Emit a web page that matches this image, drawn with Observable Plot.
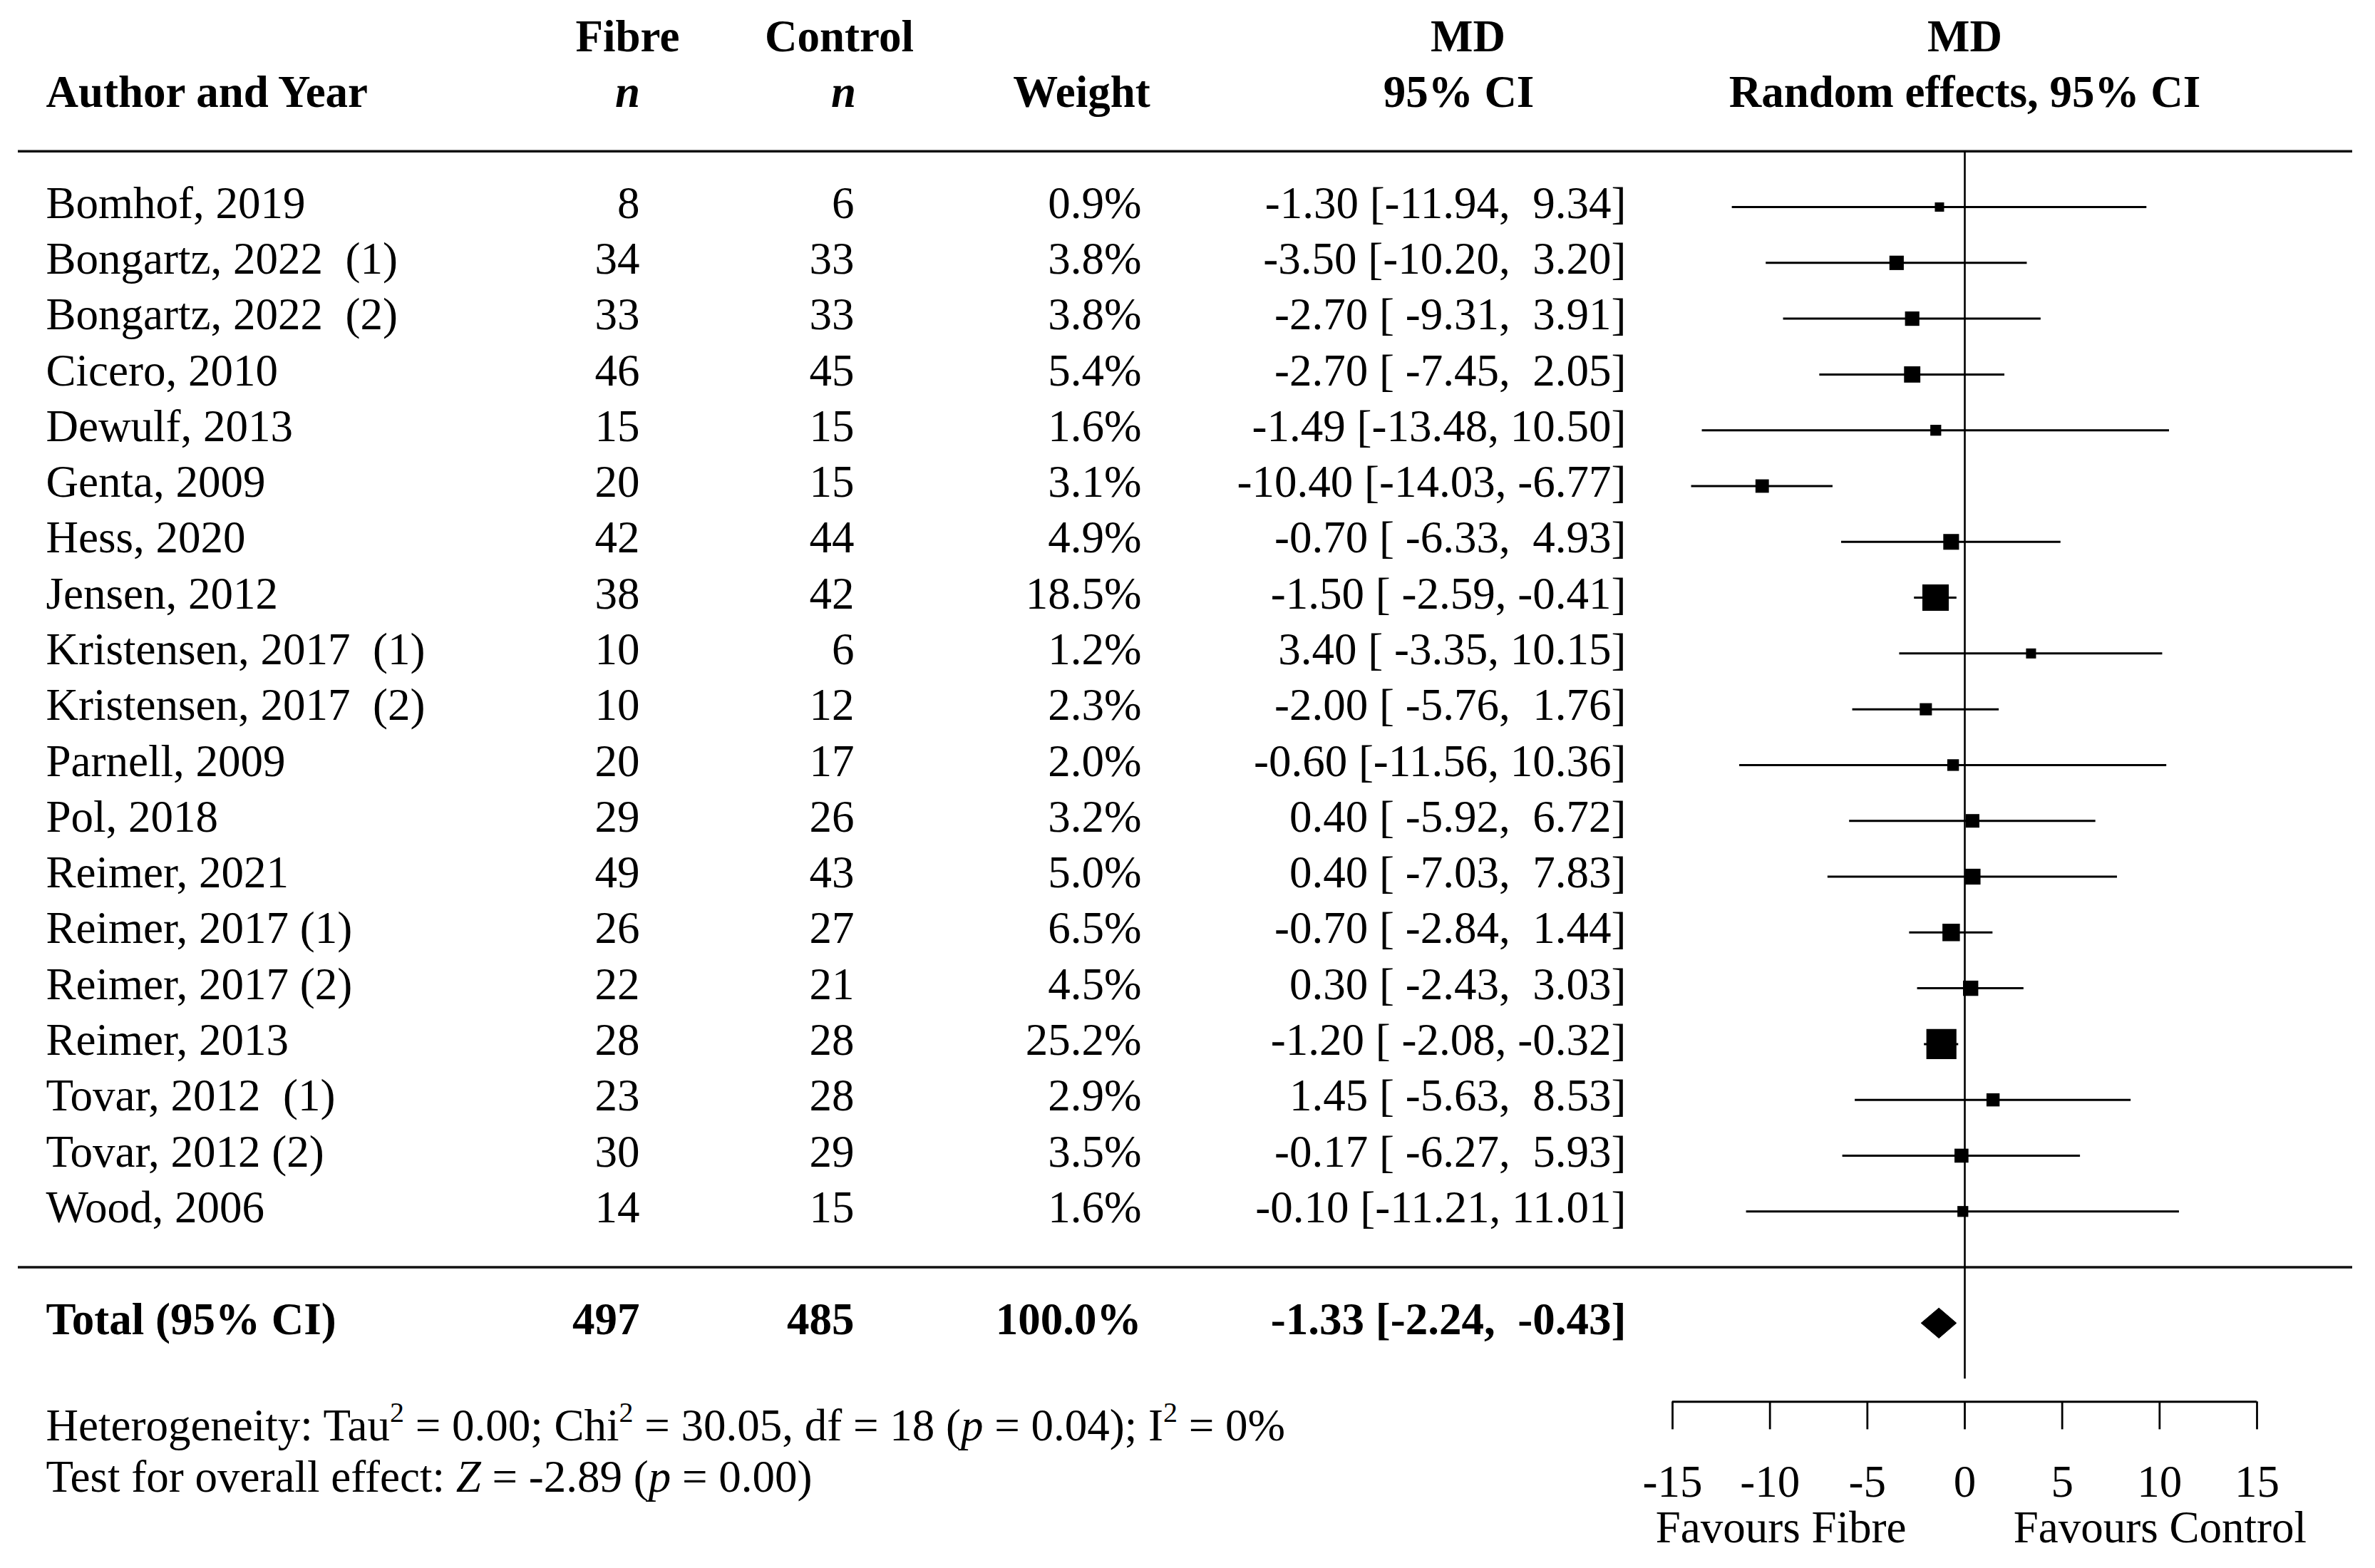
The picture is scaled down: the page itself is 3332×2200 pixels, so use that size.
<!DOCTYPE html>
<html>
<head>
<meta charset="utf-8">
<script src="https://cdn.jsdelivr.net/npm/d3@7"></script>
<script src="https://cdn.jsdelivr.net/npm/@observablehq/plot@0.6"></script>
<style>
  html, body { margin: 0; padding: 0; background: #ffffff; }
  svg text { white-space: pre; }
</style>
</head>
<body>
<div id="chart"></div>
<script>
// ---------------- data ----------------
const studies = [
  "Bomhof, 2019", "Bongartz, 2022  (1)", "Bongartz, 2022  (2)", "Cicero, 2010",
  "Dewulf, 2013", "Genta, 2009", "Hess, 2020", "Jensen, 2012",
  "Kristensen, 2017  (1)", "Kristensen, 2017  (2)", "Parnell, 2009", "Pol, 2018",
  "Reimer, 2021", "Reimer, 2017 (1)", "Reimer, 2017 (2)", "Reimer, 2013",
  "Tovar, 2012  (1)", "Tovar, 2012 (2)", "Wood, 2006"
];
const fibreN   = [8, 34, 33, 46, 15, 20, 42, 38, 10, 10, 20, 29, 49, 26, 22, 28, 23, 30, 14];
const controlN = [6, 33, 33, 45, 15, 15, 44, 42, 6, 12, 17, 26, 43, 27, 21, 28, 28, 29, 15];
const weights  = [0.9, 3.8, 3.8, 5.4, 1.6, 3.1, 4.9, 18.5, 1.2, 2.3, 2.0, 3.2, 5.0, 6.5, 4.5, 25.2, 2.9, 3.5, 1.6];
const meanDiff = [-1.30, -3.50, -2.70, -2.70, -1.49, -10.40, -0.70, -1.50, 3.40, -2.00, -0.60, 0.40, 0.40, -0.70, 0.30, -1.20, 1.45, -0.17, -0.10];
const ciLow    = [-11.94, -10.20, -9.31, -7.45, -13.48, -14.03, -6.33, -2.59, -3.35, -5.76, -11.56, -5.92, -7.03, -2.84, -2.43, -2.08, -5.63, -6.27, -11.21];
const ciHigh   = [9.34, 3.20, 3.91, 2.05, 10.50, -6.77, 4.93, -0.41, 10.15, 1.76, 10.36, 6.72, 7.83, 1.44, 3.03, -0.32, 8.53, 5.93, 11.01];

const totalLabel   = "Total (95% CI)";
const totalFibre   = 497;
const totalControl = 485;
const totalWeight  = 100.0;
const totalMD      = -1.33;
const totalLow     = -2.24;
const totalHigh    = -0.43;

const xTicks = [-15, -10, -5, 0, 5, 10, 15];
const favourLeft  = "Favours Fibre";
const favourRight = "Favours Control";

const headers1 = ["Fibre", "Control", "MD", "MD"];
const headers2 = ["Author and Year", "n", "n", "Weight", "95% CI", "Random effects, 95% CI"];

const heterogeneityText = "Heterogeneity: Tau^2^ = 0.00; Chi^2^ = 30.05, df = 18 (*p* = 0.04); I^2^ = 0%";
const overallText = "Test for overall effect: *Z* = -2.89 (*p* = 0.00)";

// ---------------- layout ----------------
const W = 3332, H = 2200;
const ML = 2346, MR = 166;
const RULE_LEFT = 25, RULE_RIGHT = 3300;
const col = px => px - ML;          // horizontal offset from the plot frame's left edge
const FONT = "Liberation Serif";
const FS = 63;

const ROW_HEAD1 = -3.05, ROW_HEAD2 = -2.05, ROW_TOPRULE = -1, ROW_MIDRULE = 19, ROW_TOTAL = 20;
const ROW_ZERO_END = 21, ROW_AXIS = 21.41, ROW_TICK_END = 21.91, ROW_TICKLAB = 22.86, ROW_FAVOUR = 23.67;
const ROW_HET = 21.84, ROW_OVERALL = 22.76;

const fmtCI = (m, l, h) => `${m.toFixed(2)} [${l.toFixed(2).padStart(6)}, ${h.toFixed(2).padStart(5)}]`;

const rows = studies.map((s, i) => ({
  i, name: s, fibre: fibreN[i], control: controlN[i], weight: weights[i],
  md: meanDiff[i], lo: ciLow[i], hi: ciHigh[i],
  wlabel: weights[i].toFixed(1) + "%",
  ci: fmtCI(meanDiff[i], ciLow[i], ciHigh[i])
}));

const diamondH = 0.27;
const diamond = [
  {x: totalLow, y: ROW_TOTAL},
  {x: totalMD, y: ROW_TOTAL - diamondH},
  {x: totalHigh, y: ROW_TOTAL},
  {x: totalMD, y: ROW_TOTAL + diamondH},
  {x: totalLow, y: ROW_TOTAL}
];

const txt = {fontFamily: FONT, fontSize: FS, fill: "#000"};
const bold = {...txt, fontWeight: "bold"};
const rowTxt = {...txt, dy: -5};
const rowBold = {...bold, dy: -5};

const ruleExtend = {insetLeft: -(ML - RULE_LEFT), insetRight: -(RULE_RIGHT - (W - MR))};

const chart = Plot.plot({
  width: W,
  height: H,
  marginLeft: ML,
  marginRight: MR,
  marginTop: 16,
  marginBottom: 31,
  style: {background: "#ffffff", fontFamily: FONT},
  x: {domain: [xTicks[0], xTicks[xTicks.length - 1]], axis: null},
  y: {domain: [-3.5, 24], reverse: true, axis: null},
  r: {type: "pow", exponent: 0.5, domain: [0, 25.2], range: [3.5, 23.8]},
  marks: [
    // table rules
    Plot.ruleY([ROW_TOPRULE], {...ruleExtend, stroke: "#111", strokeWidth: 3.5}),
    Plot.ruleY([ROW_MIDRULE], {...ruleExtend, stroke: "#111", strokeWidth: 3.5}),
    // line of no effect
    Plot.ruleX([0], {y1: ROW_TOPRULE, y2: ROW_ZERO_END, stroke: "#000", strokeWidth: 2.6}),
    // confidence intervals
    Plot.ruleY(rows, {y: "i", x1: "lo", x2: "hi", stroke: "#000", strokeWidth: 3}),
    // point estimates
    Plot.dot(rows, {x: "md", y: "i", r: "weight", symbol: "square", fill: "#000", stroke: "none"}),
    // pooled diamond
    Plot.line(diamond, {x: "x", y: "y", fill: "#000", stroke: "#000", strokeWidth: 1}),
    // custom axis
    Plot.ruleY([ROW_AXIS], {x1: xTicks[0], x2: xTicks[xTicks.length - 1], stroke: "#000", strokeWidth: 2.8}),
    Plot.ruleX(xTicks, {x: d => d, y1: ROW_AXIS, y2: ROW_TICK_END, stroke: "#000", strokeWidth: 2.8}),
    Plot.text(xTicks, {x: d => d, y: ROW_TICKLAB, text: d => String(d), ...txt, textAnchor: "middle"}),
    Plot.text([favourLeft], {x: -3, y: ROW_FAVOUR, text: d => d, ...txt, textAnchor: "end"}),
    Plot.text([favourRight], {x: 2.5, y: ROW_FAVOUR, text: d => d, ...txt, textAnchor: "start"}),
    // header line 1
    Plot.text([headers1[0]], {frameAnchor: "left", dx: col(880), y: ROW_HEAD1, text: d => d, ...bold, textAnchor: "middle"}),
    Plot.text([headers1[1]], {frameAnchor: "left", dx: col(1177), y: ROW_HEAD1, text: d => d, ...bold, textAnchor: "middle"}),
    Plot.text([headers1[2]], {frameAnchor: "left", dx: col(2059), y: ROW_HEAD1, text: d => d, ...bold, textAnchor: "middle"}),
    Plot.text([headers1[3]], {x: 0, y: ROW_HEAD1, text: d => d, ...bold, textAnchor: "middle"}),
    // header line 2
    Plot.text([headers2[0]], {frameAnchor: "left", dx: col(64), y: ROW_HEAD2, text: d => d, ...bold, textAnchor: "start"}),
    Plot.text([headers2[1]], {frameAnchor: "left", dx: col(880), y: ROW_HEAD2, text: d => d, ...bold, fontStyle: "italic", textAnchor: "middle"}),
    Plot.text([headers2[2]], {frameAnchor: "left", dx: col(1183), y: ROW_HEAD2, text: d => d, ...bold, fontStyle: "italic", textAnchor: "middle"}),
    Plot.text([headers2[3]], {frameAnchor: "left", dx: col(1517), y: ROW_HEAD2, text: d => d, ...bold, textAnchor: "middle"}),
    Plot.text([headers2[4]], {frameAnchor: "left", dx: col(2046), y: ROW_HEAD2, text: d => d, ...bold, textAnchor: "middle"}),
    Plot.text([headers2[5]], {x: 0, y: ROW_HEAD2, text: d => d, ...bold, textAnchor: "middle"}),
    // study rows
    Plot.text(rows, {frameAnchor: "left", dx: col(64), y: "i", text: "name", ...rowTxt, textAnchor: "start"}),
    Plot.text(rows, {frameAnchor: "left", dx: col(897), y: "i", text: d => String(d.fibre), ...rowTxt, textAnchor: "end"}),
    Plot.text(rows, {frameAnchor: "left", dx: col(1198), y: "i", text: d => String(d.control), ...rowTxt, textAnchor: "end"}),
    Plot.text(rows, {frameAnchor: "left", dx: col(1601), y: "i", text: "wlabel", ...rowTxt, textAnchor: "end"}),
    Plot.text(rows, {frameAnchor: "left", dx: col(2281), y: "i", text: "ci", ...rowTxt, textAnchor: "end"}),
    // total row
    Plot.text([totalLabel], {frameAnchor: "left", dx: col(64), y: ROW_TOTAL, text: d => d, ...rowBold, textAnchor: "start"}),
    Plot.text([totalFibre], {frameAnchor: "left", dx: col(897), y: ROW_TOTAL, text: d => String(d), ...rowBold, textAnchor: "end"}),
    Plot.text([totalControl], {frameAnchor: "left", dx: col(1198), y: ROW_TOTAL, text: d => String(d), ...rowBold, textAnchor: "end"}),
    Plot.text([totalWeight], {frameAnchor: "left", dx: col(1601), y: ROW_TOTAL, text: d => d.toFixed(1) + "%", ...rowBold, textAnchor: "end"}),
    Plot.text([0], {frameAnchor: "left", dx: col(2281), y: ROW_TOTAL,
      text: () => `${totalMD.toFixed(2)} [${totalLow.toFixed(2)},  ${totalHigh.toFixed(2)}]`, ...rowBold, textAnchor: "end"}),
    // footnotes
    Plot.text([heterogeneityText], {frameAnchor: "left", dx: col(64), y: ROW_HET, text: d => d, ...txt, textAnchor: "start"}),
    Plot.text([overallText], {frameAnchor: "left", dx: col(64), y: ROW_OVERALL, text: d => d, ...txt, textAnchor: "start"})
  ]
});

// rich text: *italic* and ^superscript^
const SVGNS = "http://www.w3.org/2000/svg";
chart.querySelectorAll("text").forEach(t => {
  const s = t.textContent;
  if (!/[*^]/.test(s)) return;
  const parts = s.split(/(\*[^*]+\*|\^[^^]+\^)/).filter(p => p.length);
  t.textContent = "";
  let raised = false;
  for (const p of parts) {
    const ts = document.createElementNS(SVGNS, "tspan");
    if (p[0] === "*") {
      ts.setAttribute("font-style", "italic");
      ts.textContent = p.slice(1, -1);
      if (raised) { ts.setAttribute("dy", "26"); raised = false; }
    } else if (p[0] === "^") {
      ts.setAttribute("font-size", "40");
      ts.setAttribute("dy", "-26");
      ts.textContent = p.slice(1, -1);
      raised = true;
    } else {
      ts.textContent = p;
      if (raised) { ts.setAttribute("dy", "26"); raised = false; }
    }
    t.appendChild(ts);
  }
});

document.getElementById("chart").appendChild(chart);
</script>
</body>
</html>
